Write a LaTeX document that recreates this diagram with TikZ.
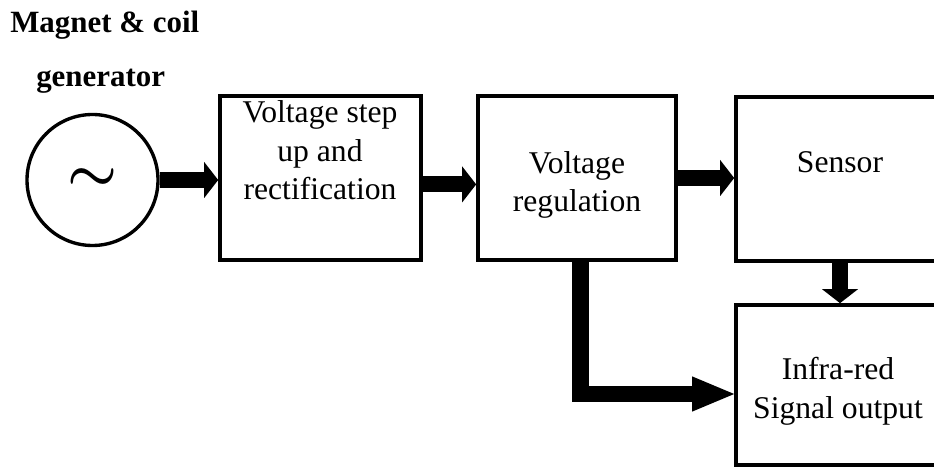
\documentclass[tikz,border=0pt]{standalone}
\usepackage{fontspec}
\setmainfont{Liberation Serif}
\usepackage{graphicx}
\usepackage{tikz}
\usetikzlibrary{arrows.meta,positioning,calc}
\tikzset{
  blk/.style={draw=black, line width=2.6pt, fill=white, minimum height=4.1cm, inner sep=0pt},
  gencirc/.style={draw=black, circle, line width=2.4pt, minimum size=3.275cm, inner sep=0pt,
                  font=\fontsize{24}{24}\selectfont\boldmath},
  txt/.style={font=\fontsize{22.5}{27.4}\selectfont, align=center, anchor=base, inner sep=0pt},
  ttl/.style={font=\fontsize{22}{27}\selectfont\bfseries, anchor=base west, inner sep=0pt},
  arr/.style={-{Triangle[length=0.35cm, width=0.9cm, line width=0pt]}, line width=0.4cm, draw=black},
  longarr/.style={-{Triangle[length=1.05cm, width=0.88cm, line width=0pt]}, line width=0.42cm, draw=black},
}
\begin{document}
\begin{tikzpicture}
  \useasboundingbox (0,0) rectangle (23.35,-11.7);
  \clip (0,0) rectangle (23.35,-11.7);
  \node[ttl] (ttla) at (0.25,-0.825) {Magnet \& coil};
  \node[ttl] (ttlb) at (0.9,-2.175) {generator};
  \node[gencirc] (gen) at (2.3125,-4.5) {\scalebox{1.6}{$\sim$}};
  \node[blk, minimum width=5.025cm] (step) at (8.0125,-4.45) {};
  \node[blk, minimum width=4.95cm] (reg) at (14.425,-4.45) {};
  \node[blk, minimum width=5.2cm] (sens) at (21.0,-4.475) {};
  \node[blk, minimum width=5.2cm, minimum height=4.0cm] (ir) at (21.0,-9.625) {};
  \node[txt] (steptxt) at (8.0,-5.0) {Voltage step\\up and\\rectification};
  \node[txt] (regtxt) at (14.425,-5.3) {Voltage\\regulation};
  \node[txt] (senstxt) at (21.0,-4.325) {Sensor};
  \node[txt] (irtxt) at (20.95,-10.45) {Infra-red\\Signal output};
  \draw[arr] (gen) -- (gen -| step.west);
  \draw[arr] ([yshift=-0.16cm]step.east) -- ([yshift=-0.16cm]reg.west);
  \draw[arr] (reg) -- (reg -| sens.west);
  \draw[arr] (sens) -- (ir);
  \draw[longarr] ([xshift=0.09cm]reg.south) |- ([yshift=-0.225cm]ir.west);
\end{tikzpicture}
\end{document}
